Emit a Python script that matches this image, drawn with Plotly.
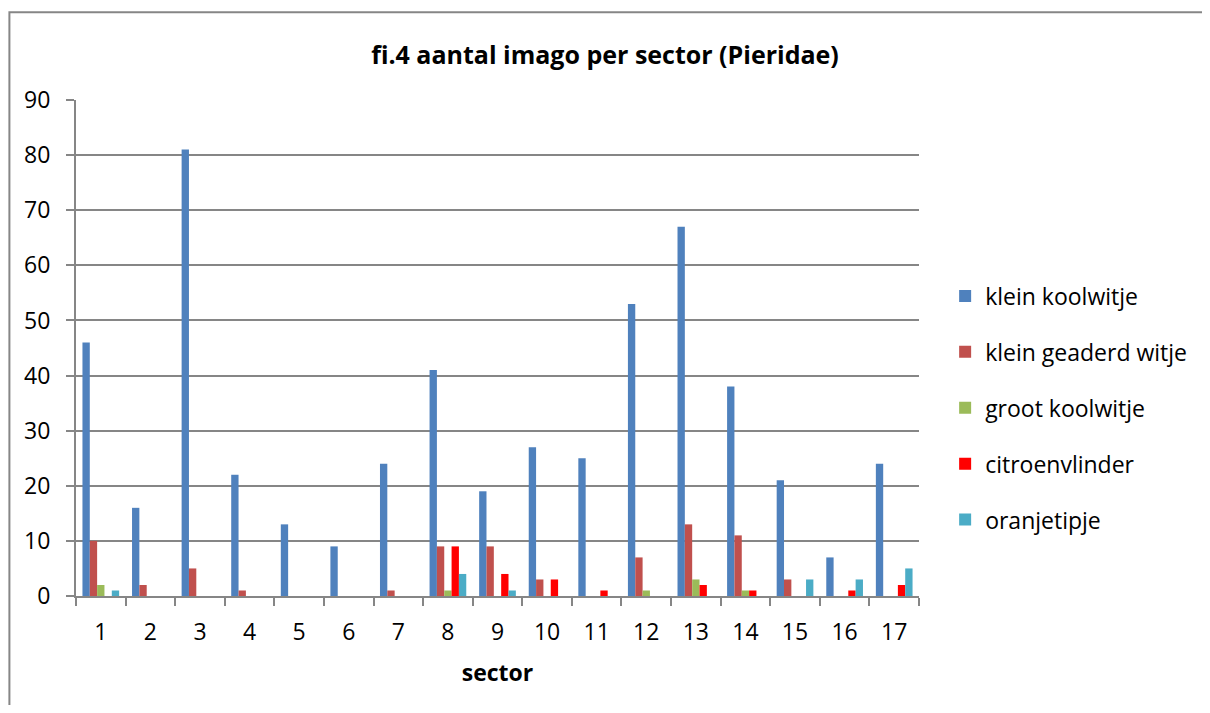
import plotly.graph_objects as go

SECTORS = [str(i) for i in range(1, 18)]

KLEIN_KOOLWITJE = [46, 16, 81, 22, 13, 9, 24, 41, 19, 27, 25, 53, 67, 38, 21, 7, 24]
KLEIN_GEADERD_WITJE = [10, 2, 5, 1, 0, 0, 1, 9, 9, 3, 0, 7, 13, 11, 3, 0, 0]
GROOT_KOOLWITJE = [2, 0, 0, 0, 0, 0, 0, 1, 0, 0, 0, 1, 3, 1, 0, 0, 0]
CITROENVLINDER = [0, 0, 0, 0, 0, 0, 0, 9, 4, 3, 1, 0, 2, 1, 0, 1, 2]
ORANJETIPJE = [1, 0, 0, 0, 0, 0, 0, 4, 1, 0, 0, 0, 0, 0, 3, 3, 5]

SERIES = [
    ("klein koolwitje", KLEIN_KOOLWITJE, "#4F81BD"),
    ("klein geaderd witje", KLEIN_GEADERD_WITJE, "#C0504D"),
    ("groot koolwitje", GROOT_KOOLWITJE, "#9BBB59"),
    ("citroenvlinder", CITROENVLINDER, "#FF0000"),
    ("oranjetipje", ORANJETIPJE, "#4BACC6"),
]

FONT = "'Open Sans', sans-serif"
GRID = "#868686"

fig = go.Figure()
for name, vals, color in SERIES:
    fig.add_trace(
        go.Bar(
            x=SECTORS,
            y=vals,
            name=name,
            legendgroup=name,
            marker=dict(color=color, line=dict(width=0)),
        )
    )

fig.update_layout(
    width=1194,
    height=697,
    barmode="group",
    bargap=0.26,
    bargroupgap=0,
    plot_bgcolor="#FFFFFF",
    paper_bgcolor="#FFFFFF",
    font=dict(family=FONT, color="#000000", size=23),
    margin=dict(l=68, r=283, t=92, b=109, autoexpand=False),
    title=dict(
        text="<b>fi.4 aantal imago per sector (Pieridae)</b>",
        x=0.5,
        xanchor="center",
        y=1 - 47 / 697,
        yanchor="middle",
        font=dict(size=25),
    ),
    showlegend=True,
    legend=dict(
        x=1.031,
        xanchor="left",
        y=0.379,
        yanchor="middle",
        tracegroupgap=23,
        font=dict(size=23),
        itemwidth=30,
    ),
    xaxis=dict(
        type="category",
        tickson="boundaries",
        ticks="outside",
        ticklen=8,
        tickwidth=2,
        tickcolor=GRID,
        showline=True,
        linecolor=GRID,
        linewidth=2,
        showgrid=False,
        ticklabelstandoff=14,
        title=dict(text="<b>sector</b>", font=dict(size=23), standoff=19),
    ),
    yaxis=dict(
        range=[0, 90],
        dtick=10,
        ticks="outside",
        ticklen=8,
        tickwidth=2,
        tickcolor=GRID,
        showline=True,
        linecolor=GRID,
        linewidth=2,
        showgrid=True,
        gridcolor=GRID,
        gridwidth=2,
        zeroline=False,
        ticklabelstandoff=11,
    ),
)

# outer chart frame (clipped at right and bottom like the source)
fig.add_shape(
    type="path",
    xref="paper",
    yref="paper",
    path="M 1.34 1.177 L -0.079 1.177 L -0.079 -0.23",
    line=dict(color=GRID, width=2),
    layer="below",
)

fig.write_html("out.html")
